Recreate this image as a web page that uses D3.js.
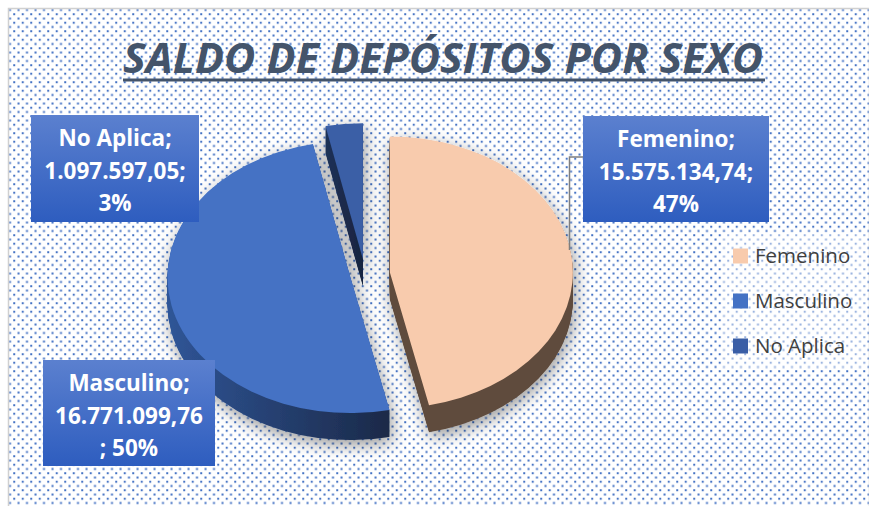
<!DOCTYPE html>
<html>
<head>
<meta charset="utf-8">
<script src="https://cdn.jsdelivr.net/npm/d3@7"></script>
<style>
  html, body { margin: 0; padding: 0; background: #ffffff; }
  svg { display: block; }
</style>
</head>
<body>
<svg id="chart" width="869" height="506"></svg>
<script>
// Datos del grafico
const categories = ["Femenino", "Masculino", "No Aplica"];
const values = [15575134.74, 16771099.76, 1097597.05];
// Excel partio la etiqueta de Masculino antes del ";"
const semicolonWraps = [false, true, false];
const chartTitle = "SALDO DE DEPÓSITOS POR SEXO";

// Colores
const topColors = ["#f8cbad", "#4472c4", "#3a5ea6"];
const sideColors = [["#5f4b3d", "#5f4b3d"], ["#2f5597", "#1b2948"], ["#1f3157", "#18243f"]];

const W = 869, H = 506;
const svg = d3.select("#chart");
const defs = svg.append("defs");

// Formato es-ES (miles con punto, decimales con coma)
const esLocale = d3.formatLocale({ decimal: ",", thousands: ".", grouping: [3], currency: ["", " €"] });
const fmtVal = esLocale.format(",.2f");

// Fondo punteado
const pat = defs.append("pattern")
  .attr("id", "dots").attr("patternUnits", "userSpaceOnUse")
  .attr("width", 8.5).attr("height", 8.5);
pat.append("rect").attr("width", 8.5).attr("height", 8.5).attr("fill", "#ffffff");
pat.append("rect").attr("x", 0.5).attr("y", 0.5).attr("width", 2).attr("height", 2).attr("fill", "#4472c4");
pat.append("rect").attr("x", 4.75).attr("y", 4.75).attr("width", 2).attr("height", 2).attr("fill", "#4472c4");

svg.append("rect")
  .attr("x", 8.5).attr("y", 8.5).attr("width", W - 8).attr("height", H)
  .attr("fill", "url(#dots)")
  .attr("stroke", "#d0d0d0").attr("stroke-width", 1.5);

// Titulo
svg.append("text")
  .attr("x", 123).attr("y", 73)
  .attr("textLength", 640).attr("lengthAdjust", "spacingAndGlyphs")
  .attr("font-family", "'Open Sans', sans-serif")
  .attr("font-weight", 700).attr("font-style", "italic")
  .attr("font-size", 41).attr("fill", "#44546a")
  .text(chartTitle);
svg.append("rect")
  .attr("x", 123).attr("y", 78.5).attr("width", 642).attr("height", 3)
  .attr("fill", "#44546a");

// Gradientes de los laterales
sideColors.forEach((c, i) => {
  const g = defs.append("linearGradient").attr("id", "side" + i)
    .attr("x1", 0).attr("x2", 1).attr("y1", 0).attr("y2", 0);
  g.append("stop").attr("offset", "0%").attr("stop-color", c[0]);
  g.append("stop").attr("offset", "100%").attr("stop-color", c[1]);
});

// Sombra
const f = defs.append("filter").attr("id", "shadow")
  .attr("x", "-20%").attr("y", "-20%").attr("width", "140%").attr("height", "140%");
f.append("feDropShadow").attr("dx", 2).attr("dy", 5).attr("stdDeviation", 8)
  .attr("flood-color", "#000").attr("flood-opacity", 0.4);

// Geometria de la tarta 3D
const cx0 = 370, cy0 = 274, rx = 183, ry = 136, depth = 27, explode = 20;
const k = ry / rx;

const pie = d3.pie().sort(null).value(d => d)(values);
const arc = d3.arc().innerRadius(0).outerRadius(rx);

pie.forEach((d, i) => {
  const mid = (d.startAngle + d.endAngle) / 2;
  d.cx = cx0 + Math.sin(mid) * explode;
  d.cy = cy0 - Math.cos(mid) * explode * k;
  d.i = i;
});
// el trozo pequeño aparece algo desplazado a la izquierda
pie[2].cx -= 5;

const pieG = svg.append("g").attr("filter", "url(#shadow)");
// Orden de pintado: el trozo de atras primero
const drawOrder = [2, 1, 0];
drawOrder.forEach(i => {
  const d = pie[i];
  const g = pieG.append("g");
  for (let z = depth; z >= 1; z--) {
    g.append("path")
      .attr("d", arc(d))
      .attr("transform", `translate(${d.cx},${d.cy + z}) scale(1,${k})`)
      .attr("fill", `url(#side${i})`);
  }
  g.append("path")
    .attr("d", arc(d))
    .attr("transform", `translate(${d.cx},${d.cy}) scale(1,${k})`)
    .attr("fill", topColors[i]);
});

// Etiquetas de datos
const boxGrad = defs.append("linearGradient").attr("id", "boxGrad")
  .attr("x1", 0).attr("x2", 0).attr("y1", 0).attr("y2", 1);
boxGrad.append("stop").attr("offset", "0%").attr("stop-color", "#5b80cf");
boxGrad.append("stop").attr("offset", "100%").attr("stop-color", "#2e5dbf");

const total = d3.sum(values);
const boxes = [
  { x: 583, y: 116, w: 186, h: 106 },
  { x: 43, y: 360, w: 172, h: 106 },
  { x: 31, y: 115, w: 168, h: 107 }
];

// Linea guia de Femenino
svg.append("path")
  .attr("d", d3.line()([[583, 157], [569.5, 157], [569.5, 250]]))
  .attr("fill", "none").attr("stroke", "#7f7f7f").attr("stroke-width", 1.5);

categories.forEach((name, i) => {
  const b = boxes[i];
  const pct = Math.round(values[i] / total * 100) + "%";
  const lines = semicolonWraps[i]
    ? [name + ";", fmtVal(values[i]), "; " + pct]
    : [name + ";", fmtVal(values[i]) + ";", pct];
  svg.append("rect")
    .attr("x", b.x).attr("y", b.y).attr("width", b.w).attr("height", b.h)
    .attr("fill", "url(#boxGrad)");
  const t = svg.append("text")
    .attr("text-anchor", "middle")
    .attr("font-family", "'Open Sans', sans-serif")
    .attr("font-weight", 700).attr("font-size", 22.5)
    .attr("fill", "#ffffff");
  lines.forEach((ln, j) => {
    t.append("tspan")
      .attr("x", b.x + b.w / 2)
      .attr("y", b.y + 31 + j * 32.5)
      .text(ln);
  });
});

// Leyenda
svg.append("rect")
  .attr("x", 721).attr("y", 232).attr("width", 144).attr("height", 136)
  .attr("fill", "#ffffff").attr("fill-opacity", 0.45);
const legendY = [256, 301, 346];
categories.forEach((name, i) => {
  svg.append("rect")
    .attr("x", 733).attr("y", legendY[i] - 7.5).attr("width", 15).attr("height", 15)
    .attr("fill", topColors[i]);
  svg.append("text")
    .attr("x", 755).attr("y", legendY[i] + 7)
    .attr("font-family", "'Open Sans', sans-serif")
    .attr("font-size", 20.5).attr("fill", "#404040")
    .text(name);
});
</script>
</body>
</html>
